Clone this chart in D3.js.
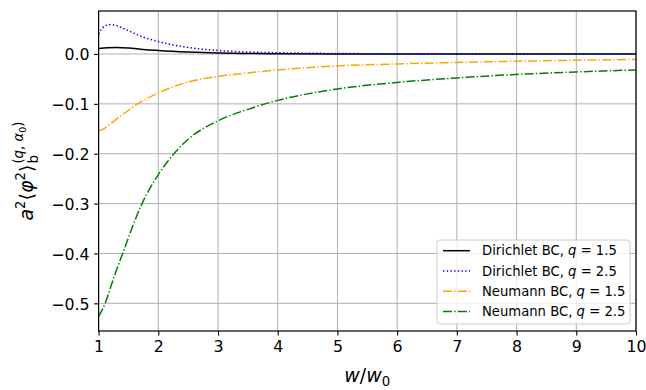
<!DOCTYPE html>
<html>
<head>
<meta charset="utf-8">
<script src="https://cdn.jsdelivr.net/npm/d3@7"></script>
<style>
  body { margin: 0; background: #fff; }
  svg { display: block; font-family: "DejaVu Sans", sans-serif; }
</style>
</head>
<body>
<svg id="svg" width="646" height="390"></svg>
<script>
// values
const xTicks = [1, 2, 3, 4, 5, 6, 7, 8, 9, 10];
const yTicks = [-0.5, -0.4, -0.3, -0.2, -0.1, 0.0];

const dirichlet15 = [
  [1, 0.011], [1.15, 0.0125], [1.3, 0.013], [1.5, 0.012], [1.75, 0.009], [2, 0.007],
  [2.5, 0.004], [3, 0.002], [3.5, 0.001], [4, 0.0004], [5, 0.0001], [7, 0], [10, 0]
];
const dirichlet25 = [
  [1, 0.040], [1.05, 0.050], [1.1, 0.056], [1.2, 0.059], [1.3, 0.057], [1.4, 0.052],
  [1.55, 0.044], [1.7, 0.036], [2, 0.025], [2.5, 0.013], [3, 0.007], [3.5, 0.004],
  [4, 0.0025], [5, 0.001], [6, 0.0005], [8, 0.0002], [10, 0.0001]
];
const neumann15 = [
  [1, -0.154], [1.1, -0.149], [1.2, -0.140], [1.35, -0.126], [1.5, -0.113], [1.65, -0.100],
  [1.8, -0.090], [2, -0.078], [2.25, -0.066], [2.5, -0.056], [3, -0.045], [3.5, -0.038],
  [4, -0.032], [5, -0.024], [6, -0.020], [7, -0.017], [8, -0.0145], [9, -0.0125], [10, -0.011]
];
const neumann25 = [
  [1, -0.526], [1.06, -0.513], [1.12, -0.497], [1.2, -0.468], [1.3, -0.433], [1.41, -0.398],
  [1.55, -0.352], [1.72, -0.302], [2, -0.242], [2.29, -0.196], [2.5, -0.171], [3, -0.134],
  [3.5, -0.111], [4, -0.093], [4.5, -0.080], [5, -0.070], [6, -0.057], [7, -0.048],
  [8, -0.041], [9, -0.036], [10, -0.032]
];

const seriesNames = ["Dirichlet BC, ", "Dirichlet BC, ", "Neumann BC, ", "Neumann BC, "];
const seriesQ = ["1.5", "2.5", "1.5", "2.5"];
const seriesData = [dirichlet15, dirichlet25, neumann15, neumann25];
const seriesColors = ["#000000", "#0000ff", "#ffa500", "#008000"];
const seriesDash = [null, "1.4,2.3", "9,2.2,1.4,2.2", "9,2.2,1.4,2.2"];

const svg = d3.select("#svg");
const mLeft = 98.6, mRight = 636, mTop = 11, mBottom = 331;

const x = d3.scaleLinear().domain([1, 10]).range([mLeft, mRight]);
const y = d3.scaleLinear().domain([-0.5555, 0.0862]).range([mBottom, mTop]);

// grid
const grid = svg.append("g");
grid.selectAll(".gx").data(xTicks).join("line")
  .attr("x1", d => x(d)).attr("x2", d => x(d))
  .attr("y1", mTop).attr("y2", mBottom)
  .attr("stroke", "#b0b0b0").attr("stroke-width", 1);
grid.selectAll(".gy").data(yTicks).join("line")
  .attr("x1", mLeft).attr("x2", mRight)
  .attr("y1", d => y(d)).attr("y2", d => y(d))
  .attr("stroke", "#b0b0b0").attr("stroke-width", 1);

// curves
const line = d3.line()
  .x(d => x(d[0]))
  .y(d => y(d[1]))
  .curve(d3.curveMonotoneX);

svg.append("g").selectAll("path").data(seriesData).join("path")
  .attr("d", line)
  .attr("fill", "none")
  .attr("stroke", (d, i) => seriesColors[i])
  .attr("stroke-width", 1.5)
  .attr("stroke-dasharray", (d, i) => seriesDash[i]);

// axes
const fmt = d => (d < 0 ? "\u2212" : "") + Math.abs(d).toFixed(1);

const xAxis = svg.append("g")
  .attr("transform", `translate(0, ${mBottom})`)
  .call(d3.axisBottom(x).tickValues(xTicks).tickFormat(d3.format("d"))
    .tickSize(4.5).tickPadding(5));
const yAxis = svg.append("g")
  .attr("transform", `translate(${mLeft}, 0)`)
  .call(d3.axisLeft(y).tickValues(yTicks).tickFormat(fmt)
    .tickSize(4.5).tickPadding(4.5));

[xAxis, yAxis].forEach(a => {
  a.select(".domain").remove();
  a.selectAll("line").attr("stroke", "#000").attr("stroke-width", 1.1);
  a.selectAll("text").attr("font-family", "DejaVu Sans").attr("font-size", 15.8).attr("fill", "#000");
});
yAxis.selectAll("text").attr("dy", "0.36em");

svg.append("rect")
  .attr("x", mLeft).attr("y", mTop)
  .attr("width", mRight - mLeft).attr("height", mBottom - mTop)
  .attr("fill", "none").attr("stroke", "#000").attr("stroke-width", 1.2);

// x label
const xl = svg.append("text")
  .attr("x", (mLeft + mRight) / 2).attr("y", 382)
  .attr("text-anchor", "middle")
  .attr("font-size", 19);
xl.append("tspan").attr("font-style", "italic").text("w");
xl.append("tspan").text("/");
xl.append("tspan").attr("font-style", "italic").text("w");
xl.append("tspan").attr("font-size", 13.3).attr("dy", 4).text("0");

// y label
const yl = svg.append("g");
const main = yl.append("text").attr("font-size", 19);
main.append("tspan").attr("font-style", "italic").text("a");
main.append("tspan").attr("font-size", 13.3).attr("dy", -8).text("2");
main.append("tspan").attr("dy", 8).text("\u27e8");
main.append("tspan").attr("font-style", "italic").text("\u03c6");
main.append("tspan").attr("font-size", 13.3).attr("dy", -8).text("2");
main.append("tspan").attr("dy", 8).text("\u27e9");
const w0 = main.node().getComputedTextLength() + 1;

yl.append("text").attr("x", w0).attr("y", 5).attr("font-size", 13.3).text("b");
const sup = yl.append("text").attr("x", w0).attr("y", -10).attr("font-size", 13.3);
sup.append("tspan").text("(");
sup.append("tspan").attr("font-style", "italic").text("q");
sup.append("tspan").text(", ");
sup.append("tspan").attr("font-style", "italic").text("\u03b1");
sup.append("tspan").attr("font-size", 9.5).attr("dy", 3).text("0");
sup.append("tspan").attr("dy", -3).text(")");
const total = w0 + sup.node().getComputedTextLength();
yl.attr("transform", `translate(33, ${(mTop + mBottom) / 2 + total / 2}) rotate(-90)`);

// legend
const legend = svg.append("g");
legend.append("rect")
  .attr("x", 437).attr("y", 240).attr("width", 193).attr("height", 84)
  .attr("rx", 3).attr("fill", "#fff").attr("fill-opacity", 0.8)
  .attr("stroke", "#cccccc").attr("stroke-width", 1);

const rows = legend.selectAll(".row").data(seriesData).join("g")
  .attr("transform", (d, i) => `translate(0, ${250.7 + i * 20.3})`);
rows.append("line")
  .attr("x1", 443).attr("x2", 470).attr("y1", 0).attr("y2", 0)
  .attr("stroke", (d, i) => seriesColors[i])
  .attr("stroke-width", 1.5)
  .attr("stroke-dasharray", (d, i) => seriesDash[i]);
const lt = rows.append("text")
  .attr("x", 482).attr("y", 0).attr("dy", "0.36em")
  .attr("font-size", 13.2);
lt.append("tspan").text((d, i) => seriesNames[i]);
lt.append("tspan").attr("font-style", "italic").text("q");
lt.append("tspan").text((d, i) => " = " + seriesQ[i]);
</script>
</body>
</html>
